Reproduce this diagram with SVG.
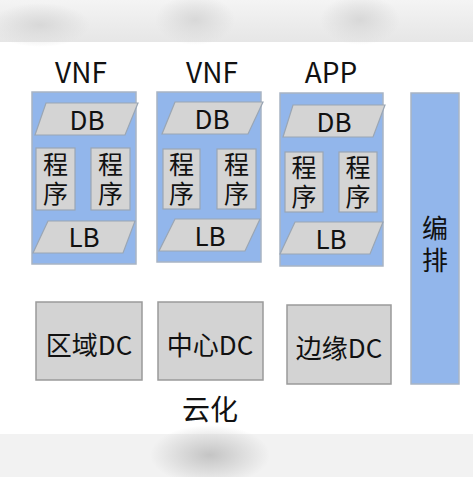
<svg xmlns="http://www.w3.org/2000/svg" width="473" height="477" viewBox="0 0 473 477">
<defs>
<style>
.bg{fill:#ffffff}
.vnf{fill:#92b6eb;stroke:#a8b4c4;stroke-width:1.5}
.par{fill:#d4d4d4;stroke:#9aa6b4;stroke-width:1.2}
.prog{fill:#d4d4d4;stroke:#9aa6b4;stroke-width:1.2}
.dc{fill:#d3d3d3;stroke:#9a9a9a;stroke-width:1.5}
.bar{fill:#92b6eb;stroke:#a8b4c4;stroke-width:1.5}
text{font-family:"Noto Sans CJK SC","Liberation Sans",sans-serif;fill:#111;text-anchor:middle}
.t28{font-size:28px}
.t26{font-size:26px}
.vt{font-size:25px;writing-mode:vertical-rl;letter-spacing:4px}
.vt2{font-size:26px;writing-mode:vertical-rl;letter-spacing:6px}
</style>
<linearGradient id="topg" x1="0" y1="0" x2="0" y2="1">
<stop offset="0" stop-color="#f4f4f4"/>
<stop offset="1" stop-color="#e6e6e6"/>
</linearGradient>
<radialGradient id="blob" cx="0.5" cy="0.5" r="0.5">
<stop offset="0" stop-color="#c4c4c4"/>
<stop offset="1" stop-color="#c4c4c4" stop-opacity="0"/>
</radialGradient>
<radialGradient id="blob2" cx="0.5" cy="0.5" r="0.5">
<stop offset="0" stop-color="#d8d8d8"/>
<stop offset="1" stop-color="#d8d8d8" stop-opacity="0"/>
</radialGradient>
</defs>
<rect class="bg" x="0" y="0" width="473" height="477"/>
<g id="top-band">
<rect x="0" y="0" width="473" height="42" fill="url(#topg)"/>
<ellipse cx="40" cy="25" rx="50" ry="22" fill="url(#blob2)"/>
<ellipse cx="195" cy="20" rx="40" ry="25" fill="url(#blob2)"/>
<ellipse cx="360" cy="20" rx="40" ry="25" fill="url(#blob2)"/>
</g>
<g id="bottom-band">
<rect x="0" y="434" width="473" height="43" fill="#f2f2f2"/>
<ellipse cx="210" cy="455" rx="60" ry="30" fill="url(#blob)"/>
</g>

<g id="vnf1">
<rect class="vnf" x="32" y="92" width="104" height="172"/>
<text class="t28" x="81" y="83">VNF</text>
<g id="vnf1-db"><polygon class="par" points="46,103 138,103 125,135 35,135"/><text class="t26" x="87" y="130">DB</text></g>
<g id="vnf1-p1"><rect class="prog" x="36" y="148" width="39" height="62"/><text class="vt" x="55.5" y="181">程序</text></g>
<g id="vnf1-p2"><rect class="prog" x="91" y="148" width="39" height="62"/><text class="vt" x="110.5" y="181">程序</text></g>
<g id="vnf1-lb"><polygon class="par" points="48,221 135,221 123,253 33,253"/><text class="t26" x="84" y="247">LB</text></g>
</g>

<g id="vnf2">
<rect class="vnf" x="157" y="92" width="104" height="170"/>
<text class="t28" x="212" y="83">VNF</text>
<g id="vnf2-db"><polygon class="par" points="175,102 263,102 248,134 162,134"/><text class="t26" x="212" y="129">DB</text></g>
<g id="vnf2-p1"><rect class="prog" x="163" y="149" width="37" height="60"/><text class="vt" x="181.5" y="181">程序</text></g>
<g id="vnf2-p2"><rect class="prog" x="217" y="149" width="39" height="60"/><text class="vt" x="236.5" y="181">程序</text></g>
<g id="vnf2-lb"><polygon class="par" points="175,219 260,219 245,251 159,251"/><text class="t26" x="210" y="246">LB</text></g>
</g>

<g id="app">
<rect class="vnf" x="280" y="93" width="103" height="173"/>
<text class="t28" x="331" y="83">APP</text>
<g id="app-db"><polygon class="par" points="293,105 385,105 373,137 283,137"/><text class="t26" x="334" y="132">DB</text></g>
<g id="app-p1"><rect class="prog" x="285" y="152" width="38" height="60"/><text class="vt" x="304" y="184">程序</text></g>
<g id="app-p2"><rect class="prog" x="339" y="152" width="38" height="60"/><text class="vt" x="358" y="184">程序</text></g>
<g id="app-lb"><polygon class="par" points="295,222 383,222 370,254 280,254"/><text class="t26" x="331" y="249">LB</text></g>
</g>

<g id="orchestration">
<rect class="bar" x="411" y="93" width="48" height="291"/>
<text class="vt2" x="435" y="247">编排</text>
</g>

<g id="dc-region">
<rect class="dc" x="36" y="302" width="106" height="78"/>
<text class="t26" x="89" y="355">区域DC</text>
</g>
<g id="dc-center">
<rect class="dc" x="158" y="302" width="105" height="78"/>
<text class="t26" x="210" y="355">中心DC</text>
</g>
<g id="dc-edge">
<rect class="dc" x="287" y="305" width="104" height="79"/>
<text class="t26" x="339" y="358">边缘DC</text>
</g>
<text class="t28" x="210" y="420">云化</text>
<g id="connectors"/>
</svg>
